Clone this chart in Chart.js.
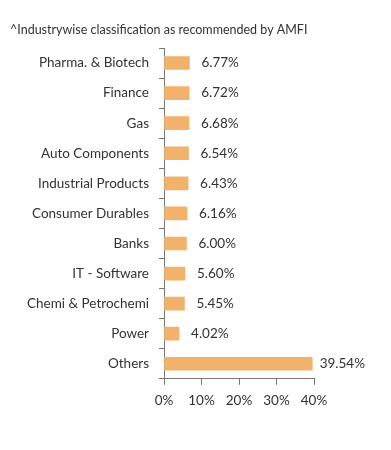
<!DOCTYPE html>
<html>
<head>
<meta charset="utf-8">
<script src="https://cdn.jsdelivr.net/npm/chart.js@4"></script>
<style>
  html, body { margin: 0; padding: 0; background: #fff; }
  #wrap { width: 391px; height: 450px; position: relative; }
</style>
</head>
<body>
<div id="wrap"><canvas id="chart"></canvas></div>
<script>
const industries = ['Pharma. & Biotech', 'Finance', 'Gas', 'Auto Components', 'Industrial Products',
  'Consumer Durables', 'Banks', 'IT - Software', 'Chemi & Petrochemi', 'Power', 'Others'];
const weights = [6.77, 6.72, 6.68, 6.54, 6.43, 6.16, 6.00, 5.60, 5.45, 4.02, 39.54];
const xTicks = [0, 10, 20, 30, 40];

const FONT = 'Lato, "Open Sans", sans-serif';
const TEXT = '#333333';

// draws the % value right after each bar (kept inside the canvas)
const valueLabels = {
  id: 'valueLabels',
  afterDatasetsDraw(chart) {
    const ctx = chart.ctx;
    const meta = chart.getDatasetMeta(0);
    ctx.save();
    ctx.font = '13.5px ' + FONT;
    ctx.fillStyle = TEXT;
    ctx.textBaseline = 'middle';
    meta.data.forEach((bar, i) => {
      const txt = weights[i].toFixed(2) + '%';
      const w = ctx.measureText(txt).width;
      const x = Math.min(bar.x + 12, chart.width - 26 - w);
      ctx.fillText(txt, x, bar.y);
    });
    ctx.restore();
  }
};

new Chart(document.getElementById('chart'), {
  type: 'bar',
  data: {
    labels: industries,
    datasets: [{
      data: weights,
      backgroundColor: '#F2B26C',
      barThickness: 13
    }]
  },
  options: {
    indexAxis: 'y',
    responsive: true,
    maintainAspectRatio: false,
    animation: false,
    layout: { padding: { left: 10, right: 77, top: 22, bottom: 33 } },
    plugins: {
      legend: { display: false },
      tooltip: { enabled: false },
      title: {
        display: true,
        text: '^Industrywise classification as recommended by AMFI',
        align: 'start',
        color: TEXT,
        font: { family: FONT, size: 12.5, weight: 'normal' },
        padding: { top: 0, bottom: 11 }
      }
    },
    scales: {
      x: {
        min: 0,
        max: 40,
        afterBuildTicks: axis => { axis.ticks = xTicks.map(v => ({ value: v })); },
        ticks: {
          callback: v => v + '%',
          color: TEXT,
          font: { family: FONT, size: 13.5 },
          padding: 8
        },
        grid: { drawOnChartArea: false, drawTicks: true, tickLength: 6, color: '#777' },
        border: { color: '#777' }
      },
      y: {
        afterFit: axis => { axis.width = 154; },
        ticks: {
          color: TEXT,
          font: { family: FONT, size: 13.5 },
          padding: 10
        },
        grid: { drawOnChartArea: false, drawTicks: true, tickLength: 5, offset: true, color: '#777' },
        border: { color: '#777' }
      }
    }
  },
  plugins: [valueLabels]
});
</script>
</body>
</html>
